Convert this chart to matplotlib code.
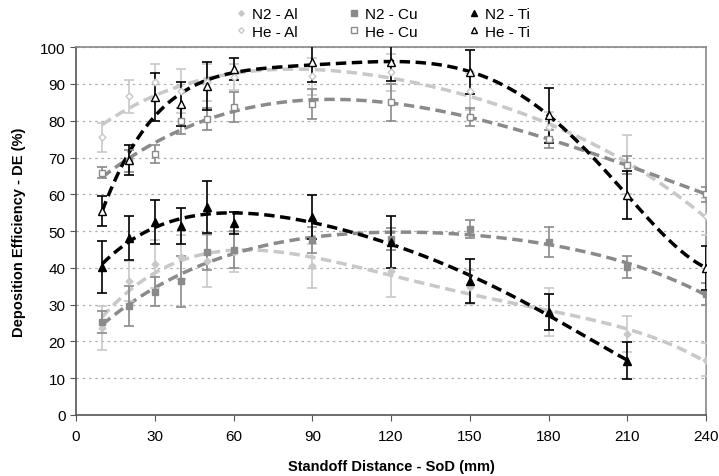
import numpy as np
import matplotlib
matplotlib.use("Agg")
import matplotlib.pyplot as plt

plt.rcParams["font.family"] = ["Liberation Sans", "DejaVu Sans"]

# standoff distance (mm)
sod = [10, 20, 30, 40, 50, 60, 90, 120, 150, 180, 210, 240]
sodTi = sod[:11]

# deposition efficiency (%) and error bars
n2Al = [23.6, 36.4, 41.0, 42.9, 41.9, 44.3, 40.5, 39.1, 34.8, 28.0, 22.0, 15.0]
n2AlErr = [6.0, 5.5, 6.5, 6.0, 7.0, 5.5, 6.0, 7.0, 4.5, 6.5, 5.0, 4.5]
n2Cu = [25.3, 29.6, 33.5, 36.3, 44.3, 44.9, 47.6, 47.8, 50.5, 47.0, 40.2, 32.9]
n2CuErr = [3.0, 5.5, 4.0, 7.0, 5.0, 5.0, 3.5, 3.0, 2.5, 4.0, 3.0, 3.0]
n2Ti = [40.2, 48.1, 52.4, 51.4, 56.5, 52.2, 53.8, 47.0, 36.4, 28.0, 14.7]
n2TiErr = [7.0, 6.0, 6.0, 5.0, 7.0, 3.0, 6.0, 7.0, 6.0, 5.0, 5.0]

heAl = [75.5, 86.7, 90.5, 88.0, 90.5, 91.8, 92.1, 93.2, 88.0, 78.3, 68.0, 54.0]
heAlErr = [4.0, 4.5, 5.0, 6.0, 5.0, 3.5, 5.0, 5.0, 5.0, 4.0, 8.0, 5.0]
heCu = [65.8, 69.0, 70.9, 79.9, 80.4, 83.7, 84.5, 85.0, 81.0, 75.0, 67.9, 60.0]
heCuErr = [1.5, 3.0, 2.5, 3.5, 3.0, 4.0, 4.0, 5.0, 2.5, 2.5, 2.5, 2.0]
heTi = [55.4, 69.3, 86.4, 84.5, 89.4, 94.0, 95.9, 95.9, 93.2, 81.5, 59.8, 40.0]
heTiErr = [4.0, 4.0, 6.5, 6.0, 6.5, 3.0, 5.5, 5.0, 6.0, 7.5, 6.5, 6.0]

colAl = "#c8c8c8"
colCu = "#8a8a8a"
colTi = "black"

fig = plt.figure(figsize=(7.19, 4.77), dpi=100)
ax = fig.add_axes([0.1057, 0.128, 0.8763, 0.771])

# label, x, y, err, colour, marker, face, size, trendline order
series = [
    ("N2 - Al", sod, n2Al, n2AlErr, colAl, "D", colAl, 3.5, 4),
    ("N2 - Cu", sod, n2Cu, n2CuErr, colCu, "s", colCu, 5, 4),
    ("N2 - Ti", sodTi, n2Ti, n2TiErr, colTi, "^", colTi, 6, 5),
    ("He - Al", sod, heAl, heAlErr, colAl, "D", "white", 3.5, 4),
    ("He - Cu", sod, heCu, heCuErr, colCu, "s", "white", 5, 4),
    ("He - Ti", sod, heTi, heTiErr, colTi, "^", "white", 6, 5),
]

handles = []
for label, xs, ys, err, col, mk, face, ms, deg in series:
    # polynomial trendline, Excel style
    coef = np.polyfit(xs, ys, deg)
    xf = np.linspace(xs[0], xs[-1], 200)
    ax.plot(xf, np.polyval(coef, xf), "--", color=col, lw=2.5, dashes=(3, 1.6), zorder=2)
    ax.errorbar(xs, ys, yerr=err, fmt="none", ecolor=col, elinewidth=1.2, capsize=3.5, capthick=1.2, zorder=3)
    h, = ax.plot(xs, ys, linestyle="none", marker=mk, ms=ms, mfc=face, mec=col, mew=1.0, zorder=4, label=label)
    handles.append(h)

ax.set_xlim(0, 240)
ax.set_ylim(0, 100)
ax.set_xticks(np.arange(0, 241, 30))
ax.set_yticks(np.arange(0, 101, 10))
ax.tick_params(axis="both", labelsize=11, direction="out", length=4, color="#555555")
ax.tick_params(axis="x", pad=6)
ax.yaxis.grid(True, linestyle=(0, (2, 3)), color="#b0b0b0", lw=0.9)
ax.set_axisbelow(True)
for s in ["left", "bottom"]:
    ax.spines[s].set_color("#555555")
    ax.spines[s].set_linewidth(1.2)
for s in ["top", "right"]:
    ax.spines[s].set_color("#888888")
    ax.spines[s].set_linewidth(1.2)

ax.set_xlabel("Standoff Distance - SoD (mm)", fontsize=10.5, fontweight="bold", labelpad=12)
ax.set_ylabel("Deposition Efficiency - DE (%)", fontsize=10.5, fontweight="bold", labelpad=10)

order = [0, 3, 1, 4, 2, 5]
fig.legend([handles[i] for i in order], [handles[i].get_label() for i in order],
           loc="upper center", bbox_to_anchor=(0.532, 1.012), ncol=3, frameon=False,
           fontsize=11, handlelength=0.8, handletextpad=0.3, columnspacing=3.3,
           labelspacing=0.25, markerscale=0.8)

fig.savefig("out.png", dpi=100)
